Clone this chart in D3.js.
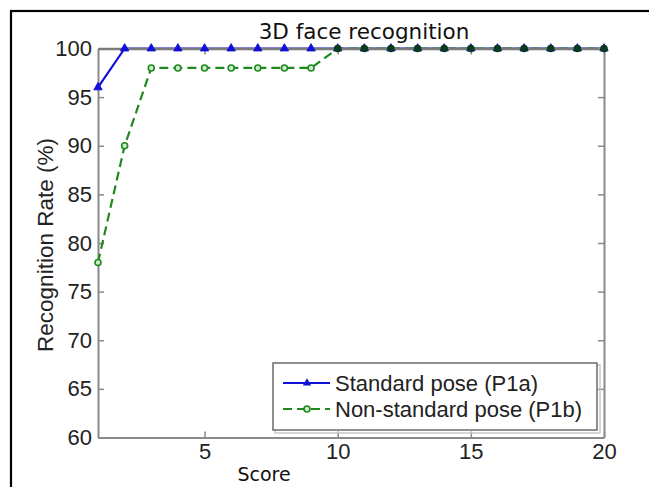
<!DOCTYPE html>
<html><head><meta charset="utf-8">
<script src="https://cdn.jsdelivr.net/npm/d3@7/dist/d3.min.js"></script>
<style>html,body{margin:0;padding:0;background:#fff;}svg{display:block;}</style>
</head><body>
<svg id="chart" width="649" height="487"></svg>
<script>
const scores = d3.range(1, 21);
const standardPose = [96,100,100,100,100,100,100,100,100,100,100,100,100,100,100,100,100,100,100,100];
const nonStandardPose = [78,90,98,98,98,98,98,98,98,100,100,100,100,100,100,100,100,100,100,100];
const xTicks = [5, 10, 15, 20];
const yTicks = [60, 65, 70, 75, 80, 85, 90, 95, 100];
const seriesNames = ["Standard pose (P1a)", "Non-standard pose (P1b)"];

const svg = d3.select("#chart");
const pL = 98, pR = 604, pT = 48.5, pB = 437.5;
const x = d3.scaleLinear().domain([1, 20]).range([pL, pR]);
const y = d3.scaleLinear().domain([60, 100]).range([pB, pT]);
const axisColor = "#8a8a8a";
const tickFont = "'Liberation Sans', Arial, sans-serif";

// outer frame
svg.append("rect").attr("x", 11).attr("y", 11).attr("width", 800).attr("height", 800)
  .attr("fill", "none").attr("stroke", "#000").attr("stroke-width", 2.2);

function styleAxis(g) {
  g.selectAll("path.domain").attr("stroke", axisColor).attr("stroke-width", 2);
  g.selectAll(".tick line").attr("stroke", axisColor).attr("stroke-width", 1.5);
  g.selectAll("text").attr("font-family", tickFont).attr("font-size", 22).attr("fill", "#222");
}
const gx = svg.append("g").attr("transform", `translate(0,${pB})`)
  .call(d3.axisBottom(x).tickValues(xTicks).tickSizeInner(-6).tickSizeOuter(0).tickPadding(10));
styleAxis(gx);
gx.selectAll("text").attr("dy", "0.71em").attr("y", 6);
const gy = svg.append("g").attr("transform", `translate(${pL},0)`)
  .call(d3.axisLeft(y).tickValues(yTicks).tickSizeInner(-6).tickSizeOuter(0).tickPadding(6));
styleAxis(gy);
gy.selectAll("text").attr("x", -6);

// lines
const blue = "#1010d8", green = "#1e8a1e";
const line = d3.line().x(d => x(d[0])).y(d => y(d[1]));
const dStd = scores.map((s, i) => [s, standardPose[i]]);
const dNon = scores.map((s, i) => [s, nonStandardPose[i]]);
svg.append("path").datum(dStd).attr("d", line).attr("fill", "none")
  .attr("stroke", blue).attr("stroke-width", 2.2);
svg.append("path").datum(dNon).attr("d", line).attr("fill", "none")
  .attr("stroke", green).attr("stroke-width", 2.2).attr("stroke-dasharray", "9,5");

// top and right box axes drawn over the lines
const gxt = svg.append("g").attr("transform", `translate(0,${pT})`)
  .call(d3.axisTop(x).tickValues(xTicks).tickSizeInner(-6).tickSizeOuter(0).tickFormat(""));
styleAxis(gxt);
gxt.select("path.domain").attr("stroke-width", 2.6).attr("stroke", "#7a7a7a");
const gyr = svg.append("g").attr("transform", `translate(${pR},0)`)
  .call(d3.axisRight(y).tickValues(yTicks).tickSizeInner(-6).tickSizeOuter(0).tickFormat(""));
styleAxis(gyr);

// markers
const tri = d3.symbol().type(d3.symbolTriangle).size(30);
svg.append("g").selectAll("path").data(dStd).join("path")
  .attr("d", tri).attr("transform", d => `translate(${x(d[0])},${y(d[1])})`)
  .attr("fill", blue).attr("stroke", blue).attr("stroke-width", 1);
svg.append("g").selectAll("circle").data(dNon).join("circle")
  .attr("cx", d => x(d[0])).attr("cy", d => y(d[1])).attr("r", 3)
  .attr("fill", d => d[1] === 100 ? "#0b3a1e" : "#cfe8cf").attr("stroke", d => d[1] === 100 ? "#0b3a1e" : green).attr("stroke-width", 1.6);

// title and labels
svg.append("text").attr("x", 364).attr("y", 39).attr("text-anchor", "middle")
  .attr("font-family", "'DejaVu Sans', Verdana, sans-serif").attr("font-size", 21.5).attr("fill", "#111")
  .text("3D face recognition");
svg.append("text").attr("x", 264).attr("y", 481).attr("text-anchor", "middle")
  .attr("font-family", "'DejaVu Sans', Verdana, sans-serif").attr("font-size", 19).attr("fill", "#111")
  .text("Score");
svg.append("text").attr("transform", "translate(53,245) rotate(-90)").attr("text-anchor", "middle")
  .attr("font-family", tickFont).attr("font-size", 22.5).attr("fill", "#222")
  .text("Recognition Rate (%)");

// legend
const lg = svg.append("g");
lg.append("rect").attr("x", 275).attr("y", 365).attr("width", 325).attr("height", 68)
  .attr("fill", "none").attr("stroke", "#c8c8c8").attr("stroke-width", 1.5);
lg.append("rect").attr("x", 273).attr("y", 363).attr("width", 324).attr("height", 67)
  .attr("fill", "#fff").attr("stroke", "#6a6a6a").attr("stroke-width", 1.5);
const rows = [
  {name: seriesNames[0], color: blue, dash: null, yy: 383},
  {name: seriesNames[1], color: green, dash: "9,5", yy: 409}
];
rows.forEach((r, i) => {
  lg.append("line").attr("x1", 283).attr("x2", 330).attr("y1", r.yy).attr("y2", r.yy)
    .attr("stroke", r.color).attr("stroke-width", 2.2).attr("stroke-dasharray", r.dash);
  if (i === 0) {
    lg.append("path").attr("d", tri).attr("transform", `translate(307,${r.yy})`).attr("fill", blue);
  } else {
    lg.append("circle").attr("cx", 307).attr("cy", r.yy).attr("r", 3)
      .attr("fill", "#cfe8cf").attr("stroke", green).attr("stroke-width", 1.6);
  }
  lg.append("text").attr("x", 335).attr("y", r.yy).attr("dy", "0.35em")
    .attr("font-family", tickFont).attr("font-size", 22).attr("fill", "#222").text(r.name);
});
</script>
</body></html>
